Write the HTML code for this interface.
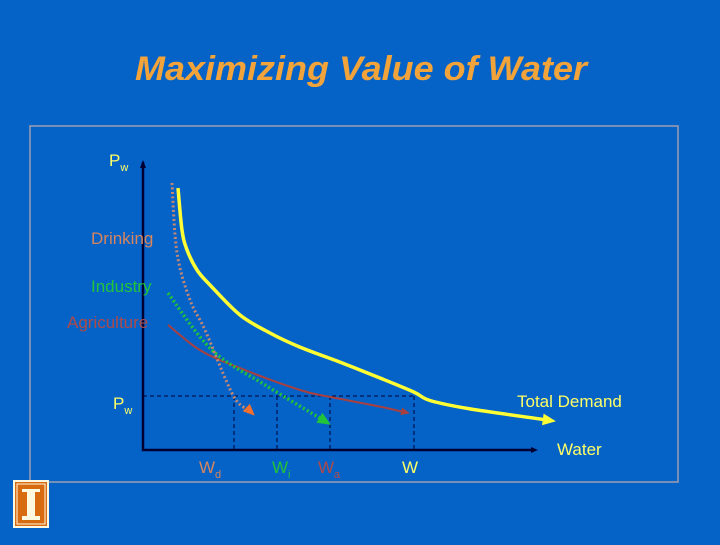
<!DOCTYPE html>
<html><head><meta charset="utf-8"><style>
body{margin:0;width:720px;height:540px;background:#0563C8;overflow:hidden;font-family:"Liberation Sans",sans-serif}
</style></head><body>
<svg width="720" height="540" xmlns="http://www.w3.org/2000/svg">
<rect width="720" height="540" fill="#0563C8"/>
<text x="361" y="80" text-anchor="middle" font-size="34" font-weight="bold" font-style="italic" fill="#F2A33A" textLength="452" lengthAdjust="spacingAndGlyphs">Maximizing Value of Water</text>
<rect x="30" y="126" width="648" height="356" fill="none" stroke="#A0A0B0" stroke-width="1.5"/>
<g id="plot"></g>
<g font-size="17">
<text x="109" y="166" fill="#FFFF66">P<tspan font-size="11" dy="5">w</tspan></text>
<text x="91" y="244" fill="#D8845C">Drinking</text>
<text x="91" y="292" fill="#22C43A">Industry</text>
<text x="67" y="328" fill="#B04A48">Agriculture</text>
<text x="113" y="409" fill="#FFFF66">P<tspan font-size="11" dy="5">w</tspan></text>
<text x="517" y="407" fill="#FFFF66">Total Demand</text>
<text x="557" y="455" fill="#FFFF66">Water</text>
<text x="199" y="473" fill="#D8845C">W<tspan font-size="11" dy="5">d</tspan></text>
<text x="272" y="473" fill="#22C43A">W<tspan font-size="11" dy="5">i</tspan></text>
<text x="318" y="473" fill="#B04A48">W<tspan font-size="11" dy="5">a</tspan></text>
<text x="402" y="473" fill="#FFFF66">W</text>
</g>
<g>
<rect x="13" y="480" width="36" height="48" fill="#FFF8E0"/>
<rect x="15" y="482" width="32" height="44" fill="#D86A10"/>
<rect x="17" y="484" width="28" height="40" fill="none" stroke="#FFF8E0" stroke-width="1"/>
<rect x="22" y="489" width="18" height="3" fill="#FFF8E0"/>
<rect x="27" y="492" width="8" height="24" fill="#FFF8E0"/>
<rect x="22" y="516" width="18" height="4" fill="#FFF8E0"/>
</g>
</svg>
<script>
const totalX=[8.75,9.75,11,13.5,16.75,24.25,31.75,39.25,49.25,59.25,67.75,71.75,81.75,101];
const totalY=[87.3,73.3,66.7,60,55,45,39,34.3,29.3,24,19.3,16.5,13.7,10];
const drinkX=[7.25,8.5,11.75,15.5,22.5,26.5];
const drinkY=[89,65.7,50,40,18.3,13.3];
const indX=[6.25,17.25,30.5,45];
const indY=[52.3,33.3,21.7,10];
const agX=[6.25,14.25,24.25,39.25,46.75,57.25,65.25];
const agY=[41.7,33.3,27.3,20,17.7,15,12.7];
const priceLevel=18;
const qtyX=[22.75,33.5,46.75,67.75];
const sx=v=>143+v*4, sy=v=>450-v*3;
const NS="http://www.w3.org/2000/svg";
const g=document.getElementById('plot');
function mk(t,a){const e=document.createElementNS(NS,t);for(const k in a)e.setAttribute(k,a[k]);g.appendChild(e);return e;}
function path(xs,ys){const P=xs.map((x,i)=>[sx(x),sy(ys[i])]);let d='M'+P[0][0].toFixed(1)+' '+P[0][1].toFixed(1);
for(let i=0;i<P.length-1;i++){const p0=P[Math.max(i-1,0)],p1=P[i],p2=P[i+1],p3=P[Math.min(i+2,P.length-1)];
const c1=[p1[0]+(p2[0]-p0[0])/6,p1[1]+(p2[1]-p0[1])/6],c2=[p2[0]-(p3[0]-p1[0])/6,p2[1]-(p3[1]-p1[1])/6];
d+=`C${c1[0].toFixed(1)} ${c1[1].toFixed(1)} ${c2[0].toFixed(1)} ${c2[1].toFixed(1)} ${p2[0].toFixed(1)} ${p2[1].toFixed(1)}`;}return d;}
function arrow(xs,ys,col,size){const n=xs.length;const x1=sx(xs[n-2]),y1=sy(ys[n-2]),x2=sx(xs[n-1]),y2=sy(ys[n-1]);const a=Math.atan2(y2-y1,x2-x1);
const p=[[x2+Math.cos(a)*size,y2+Math.sin(a)*size],[x2+Math.cos(a+2.2)*size*0.8,y2+Math.sin(a+2.2)*size*0.8],[x2+Math.cos(a-2.2)*size*0.8,y2+Math.sin(a-2.2)*size*0.8]];
return mk('polygon',{points:p.map(q=>q.map(v=>v.toFixed(1)).join(',')).join(' '),fill:col});}
let e=mk('line',{x1:sx(0),y1:sy(priceLevel),x2:sx(qtyX[3]),y2:sy(priceLevel),stroke:'#000033','stroke-dasharray':'4,3','stroke-width':1});


qtyX.forEach(q=>{const l=mk('line',{x1:sx(q),y1:sy(priceLevel),x2:sx(q),y2:sy(0),stroke:'#000033','stroke-dasharray':'4,3','stroke-width':1});

});
e=mk('path',{d:`M${sx(0)} ${sy(96)}L${sx(0)} ${sy(0)}L${sx(98)} ${sy(0)}`,fill:'none',stroke:'#000033','stroke-width':2.5});


e=mk('polygon',{points:`${sx(0)-3},${sy(94)} ${sx(0)+3},${sy(94)} ${sx(0)},${sy(96)-2}`,fill:'#000033'});


e=mk('polygon',{points:`${sx(98)-4},${sy(0)-3} ${sx(98)-4},${sy(0)+3} ${sx(98)+3},${sy(0)}`,fill:'#000033'});


e=mk('path',{d:path(agX,agY),fill:'none',stroke:'#A84040','stroke-width':2});


arrow(agX,agY,'#A84040',6);
e=mk('path',{d:path(indX,indY),fill:'none',stroke:'#22C43A','stroke-width':3.5,'stroke-dasharray':'2,2.5'});


arrow(indX,indY,'#22C43A',9);
e=mk('path',{d:path(drinkX,drinkY),fill:'none',stroke:'#C88870','stroke-width':3,'stroke-dasharray':'2,2.5'});


arrow(drinkX,drinkY,'#F07030',8);
e=mk('path',{d:path(totalX,totalY),fill:'none',stroke:'#FFFF33','stroke-width':3.5,'stroke-linejoin':'round'});


arrow(totalX,totalY,'#FFFF33',9);
</script>
</body></html>
